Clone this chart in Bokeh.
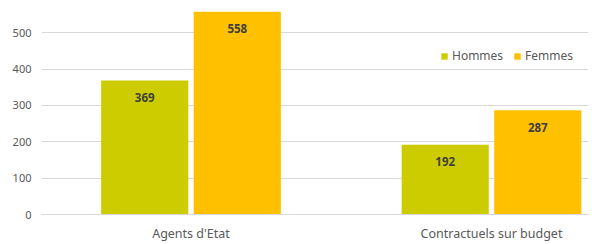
from bokeh.plotting import figure
from bokeh.models import ColumnDataSource, Range1d, FixedTicker, Legend, LegendItem
from bokeh.embed import file_html
from bokeh.resources import INLINE
from bokeh.core.properties import value

categories = ["Agents d'Etat", "Contractuels sur budget"]
hommes = [369, 192]
femmes = [558, 287]
series = ["Hommes", "Femmes"]
colors = ["#CCCC00", "#FFC000"]
yticks = [0, 100, 200, 300, 400, 500]

FONT = "Noto Sans"

p = figure(width=595, height=244, output_backend="svg", toolbar_location=None,
           x_range=Range1d(-0.4975, 1.3228), y_range=Range1d(0, 575),
           min_border_left=41, min_border_right=7, min_border_top=5, min_border_bottom=29)
p.outline_line_color = None
p.background_fill_color = "white"

xs = list(range(len(categories)))
bw = 0.29
off = 0.154
legend_items = []
for vals, name, col, sgn in [(hommes, series[0], colors[0], -1), (femmes, series[1], colors[1], 1)]:
    src = ColumnDataSource(dict(x=[x + sgn * off for x in xs], top=vals,
                                lab=[str(v) for v in vals]))
    r = p.vbar(x="x", top="top", width=bw, source=src, fill_color=col, line_color=None)
    p.text(x="x", y="top", text="lab", source=src, y_offset=17, text_align="center",
           text_baseline="middle", text_font=value(FONT), text_font_size="11.5px",
           text_font_style="bold", text_color="#404040")
    legend_items.append(LegendItem(label=name, renderers=[r]))

p.xaxis.ticker = FixedTicker(ticks=xs)
p.xaxis.major_label_overrides = {i: c for i, c in enumerate(categories)}
p.xaxis.major_tick_line_color = None
p.xaxis.minor_tick_line_color = None
p.xaxis.major_tick_out = 0
p.xaxis.major_tick_in = 0
p.xaxis.axis_line_color = "#D9D9D9"
p.xaxis.major_label_text_font = FONT
p.xaxis.major_label_text_font_size = "12.5px"
p.xaxis.major_label_text_color = "#595959"
p.xaxis.major_label_standoff = 10
p.xgrid.grid_line_color = None

p.yaxis.ticker = FixedTicker(ticks=yticks)
p.yaxis.major_tick_line_color = None
p.yaxis.minor_tick_line_color = None
p.yaxis.major_tick_out = 0
p.yaxis.major_tick_in = 0
p.yaxis.axis_line_color = None
p.yaxis.major_label_text_font = FONT
p.yaxis.major_label_text_font_size = "11px"
p.yaxis.major_label_text_color = "#595959"
p.yaxis.major_label_standoff = 10
p.ygrid.grid_line_color = "#D9D9D9"
p.ygrid.ticker = FixedTicker(ticks=yticks)

legend = Legend(items=legend_items, orientation="horizontal", location=(399, 150),
                glyph_width=8, glyph_height=8, label_text_font=FONT,
                label_text_font_size="12px", label_text_color="#595959",
                border_line_color=None, background_fill_alpha=0, spacing=10,
                label_standoff=4, padding=0, margin=0)
p.add_layout(legend, "center")

open("out.html", "w").write(file_html(p, INLINE))
